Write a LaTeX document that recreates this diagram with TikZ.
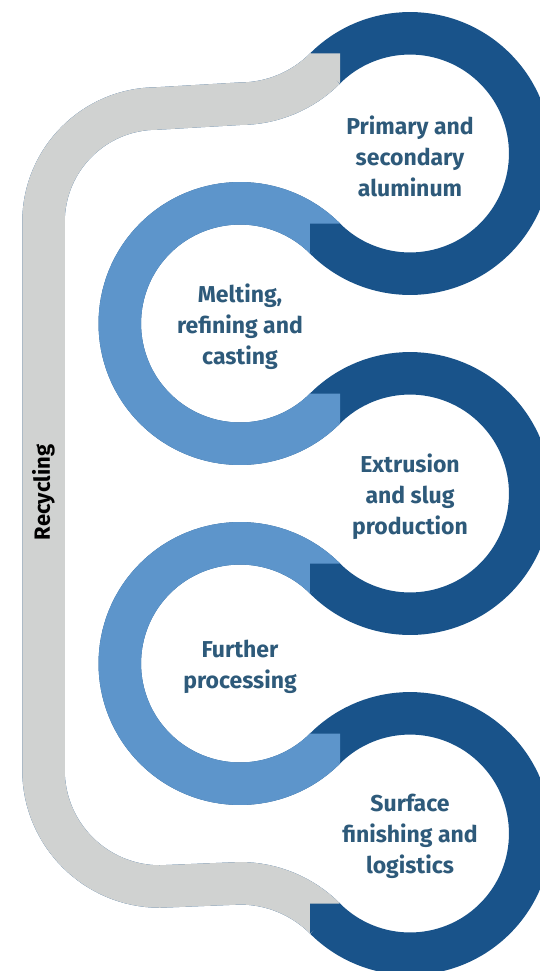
\documentclass[tikz,border=0pt]{standalone}
\usepackage{fontspec}
\setmainfont{Fira Sans}
\definecolor{darkb}{RGB}{25,83,138}
\definecolor{lightb}{RGB}{93,149,203}
\definecolor{grayc}{RGB}{208,210,209}
\definecolor{txt}{RGB}{46,90,122}
\begin{document}
\begin{tikzpicture}[x=1pt,y=-1pt,
  band/.style={line width=42.5pt},
  lbl/.style={text=txt, font=\bfseries\fontsize{23}{31}\selectfont, align=center, inner sep=0pt},
  rec/.style={text=black, font=\bfseries\fontsize{22}{26}\selectfont, rotate=90, inner sep=0pt}]
\useasboundingbox (0,0) rectangle (540,971);
% whole band in dark blue
\draw[band, darkb] (325,918.5) arc[start angle=315,end angle=270,radius=120.21]
  -- (160,886.5) arc[start angle=90,end angle=180,radius=116.5]
  -- (43.5,222) arc[start angle=180,end angle=270,radius=113.5]
  -- (240,103.71) arc[start angle=90,end angle=45,radius=120.21]
  arc[start angle=225,end angle=495,radius=120.21]
  arc[start angle=-45,end angle=-315,radius=120.21]
  arc[start angle=225,end angle=495,radius=120.21]
  arc[start angle=-45,end angle=-315,radius=120.21]
  arc[start angle=225,end angle=495,radius=120.21];
% recycling band in gray
\draw[band, grayc] (325,918.5) arc[start angle=315,end angle=270,radius=120.21]
  -- (160,886.5) arc[start angle=90,end angle=180,radius=116.5]
  -- (43.5,222) arc[start angle=180,end angle=270,radius=113.5]
  -- (240,103.71) arc[start angle=90,end angle=45,radius=120.21];
% light rings
\draw[band, lightb] (325,238.5) arc[start angle=-45,end angle=-315,radius=120.21];
\draw[band, lightb] (325,578.5) arc[start angle=-45,end angle=-315,radius=120.21];
% junction notches
\fill[grayc]  (310,53.5)  -- (340,53.5)  -- (340,83.5)  -- (323,70.5)  -- cycle;
\fill[darkb]  (340,223.5) -- (310,223.5) -- (310,253.5) -- (327,240.5) -- cycle;
\fill[lightb] (310,393.5) -- (340,393.5) -- (340,423.5) -- (323,410.5) -- cycle;
\fill[darkb]  (340,563.5) -- (310,563.5) -- (310,593.5) -- (327,580.5) -- cycle;
\fill[lightb] (310,733.5) -- (340,733.5) -- (340,763.5) -- (323,750.5) -- cycle;
\fill[darkb]  (340,903.5) -- (310,903.5) -- (310,933.5) -- (327,920.5) -- cycle;
% labels
\node[lbl] (n1) at (410,156.5) {Primary and\\secondary\\aluminum};
\node[lbl] (n2) at (240,326.5) {Melting,\\refining and\\casting};
\node[lbl] (n3) at (410,496.5) {Extrusion\\and slug\\production};
\node[lbl] (n4) at (240,666.5) {Further\\processing};
\node[lbl] (n5) at (410,836.5) {Surface\\finishing and\\logistics};
\node[rec] (rc) at (43.5,492.5) {Recycling};
\end{tikzpicture}
\end{document}
